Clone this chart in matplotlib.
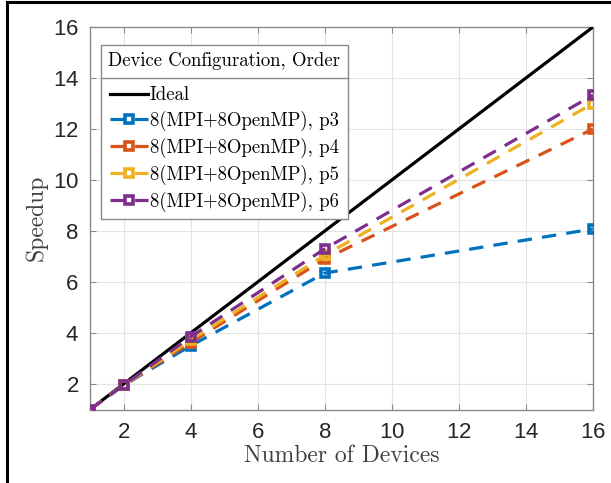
import matplotlib
matplotlib.use("Agg")
import matplotlib.pyplot as plt
from matplotlib.lines import Line2D

plt.rcParams['font.family'] = 'serif'
plt.rcParams['font.serif'] = ['cmr10', 'DejaVu Serif']
plt.rcParams['axes.formatter.use_mathtext'] = True

devices = [1, 2, 4, 8, 16]
ideal = [1, 2, 4, 8, 16]
speedup_p3 = [1, 1.95, 3.5, 6.35, 8.08]
speedup_p4 = [1, 1.95, 3.62, 6.9, 12.0]
speedup_p5 = [1, 1.95, 3.72, 7.05, 13.0]
speedup_p6 = [1, 1.95, 3.85, 7.3, 13.33]

labels = ["8(MPI+8OpenMP), p3", "8(MPI+8OpenMP), p4",
          "8(MPI+8OpenMP), p5", "8(MPI+8OpenMP), p6"]
colors = ["#0072BD", "#D95319", "#EDB120", "#7E2F8E"]

fig = plt.figure(figsize=(6.11, 4.83), dpi=100)
ax = fig.add_axes([90 / 611, 1 - 409.5 / 483, 503 / 611, 382.5 / 483])

ax.plot(devices, ideal, color="black", lw=2.3, label="Ideal", zorder=3)
for series, lab, col in zip([speedup_p3, speedup_p4, speedup_p5, speedup_p6], labels, colors):
    ax.plot(devices, series, color=col, lw=2.3, dashes=(4.5, 3.2), marker="s",
            markersize=5.5, markeredgewidth=2.6, markerfacecolor="none",
            label=lab, zorder=4)

ax.set_xlim(1, 16)
ax.set_ylim(1, 16)
ax.set_xticks([2, 4, 6, 8, 10, 12, 14, 16])
ax.set_yticks([2, 4, 6, 8, 10, 12, 14, 16])
ax.grid(True, color="#e3e3e3", lw=0.8)
ax.set_axisbelow(True)
for sp in ax.spines.values():
    sp.set_color("#8a8a8a")
    sp.set_linewidth(1.0)
ax.tick_params(direction="in", top=True, right=True, length=4, color="#8a8a8a",
               labelsize=16, labelcolor="#262626")
ax.tick_params(axis="x", pad=9)
ax.tick_params(axis="y", pad=8)
for t in ax.get_xticklabels() + ax.get_yticklabels():
    t.set_fontfamily("Liberation Sans")

ax.set_xlabel("Number of Devices", fontsize=17, color="#404040", labelpad=1)
ax.set_ylabel("Speedup", fontsize=17, color="#404040", labelpad=4)

leg = ax.legend(loc="upper left", bbox_to_anchor=((101 - 90) / 503, (409.5 - 45) / 382.5),
                borderaxespad=0, fontsize=13.5, title="Device Configuration, Order",
                title_fontsize=13.5, fancybox=False, edgecolor="#8a8a8a", framealpha=1,
                handlelength=2.0, handletextpad=0.1, labelspacing=0.36,
                borderpad=0.4, numpoints=1)
leg.get_frame().set_linewidth(1.0)
# extra room between the title and the entries
leg._legend_box.sep = 0.36 * 13.5 + 6.5

# separator under the legend title
fig.canvas.draw()
renderer = fig.canvas.get_renderer()
frame_box = leg.get_frame().get_window_extent(renderer)
title_box = leg.get_title().get_window_extent(renderer)
entries_box = leg._legend_handle_box.get_window_extent(renderer)
sep_y = (title_box.y0 + entries_box.y1) / 2
fig.add_artist(Line2D([frame_box.x0 / fig.bbox.width, frame_box.x1 / fig.bbox.width],
                      [sep_y / fig.bbox.height, sep_y / fig.bbox.height],
                      color="#8a8a8a", lw=1.0))

# page border on the left and top
fig.add_artist(Line2D([7 / 611, 7 / 611], [0, 1 - 1.5 / 483], color="black", lw=2.2))
fig.add_artist(Line2D([7 / 611, 1], [1 - 1.5 / 483, 1 - 1.5 / 483], color="black", lw=2.2))

fig.savefig("out.png", dpi=100)
